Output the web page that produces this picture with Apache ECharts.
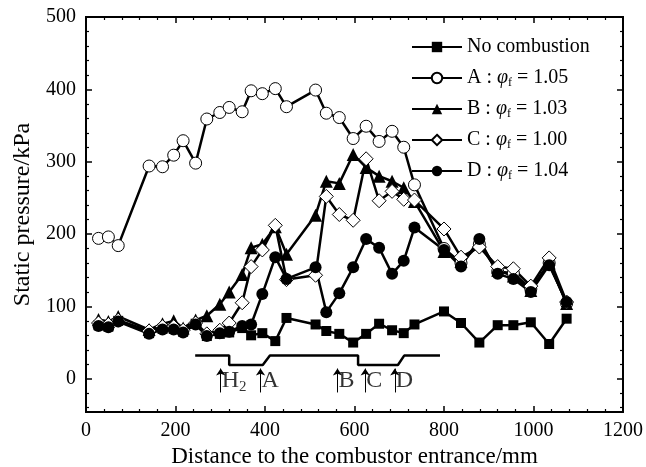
<!DOCTYPE html>
<html><head><meta charset="utf-8">
<script src="https://cdn.jsdelivr.net/npm/echarts@6/dist/echarts.min.js"></script>
<style>html,body{margin:0;padding:0;background:#fff}#c{width:646px;height:467px}</style>
</head><body><div id="c"></div>
<script>
// ---- data ----
const xPos = [28, 50, 72, 141, 171, 196, 217, 245, 270, 299, 320, 349, 369, 394, 423, 448, 513, 537, 566, 597, 626, 655, 684, 710, 734, 800, 838, 879, 920, 955, 994, 1035, 1074];
const noCombustion = [74, 72, 80, 63, 69, 69, 65, 76, 59, 62, 64, 70, 60, 63, 52, 84, 75, 66, 62, 50, 62, 76, 67, 63, 75, 93, 77, 50, 74, 74, 78, 48, 83];
const seriesA = [194, 196, 184, 294, 293, 309, 329, 298, 359, 368, 375, 369, 398, 394, 401, 376, 399, 367, 361, 332, 349, 328, 342, 320, 268, 180, 160, 186, 148, 146, 124, 160, 104];
const seriesB = [82, 79, 86, 68, 76, 80, 70, 81, 87, 103, 120, 144, 181, 186, 210, 172, 226, 273, 270, 310, 292, 280, 273, 264, 245, 176, 162, 188, 150, 142, 122, 160, 104];
const seriesC = [77, 75, 81, 66, 72, 72, 67, 77, 62, 67, 77, 105, 155, 178, 212, 137, 143, 252, 227, 219, 304, 246, 259, 248, 247, 207, 168, 182, 155, 152, 128, 167, 106];
const seriesD = [73, 71, 79, 62, 68, 68, 64, 75, 59, 63, 65, 73, 75, 117, 168, 138, 154, 92, 118, 154, 193, 181, 145, 163, 209, 178, 155, 193, 145, 138, 120, 157, 106];
const seriesNames = ['No combustion', 'A', 'B', 'C', 'D'];
const phiValues = { A: '1.05', B: '1.03', C: '1.00', D: '1.04' };
const xTickLabels = [0, 200, 400, 600, 800, 1000, 1200];
const yTickLabels = [0, 100, 200, 300, 400, 500];
// combustor outline schematic and injection arrows (in data units)
const outlineX = [244, 320, 320, 395, 411, 608, 608, 697, 711, 791];
const outlineY = [32, 32, 19, 19, 32, 32, 19, 19, 32, 32];
const arrowX = [301, 390, 562, 624, 690];
const arrowLabels = ['H2', 'A', 'B', 'C', 'D'];

// ---- chart ----
const FONT = 'Liberation Serif';
const yMinor = [];
for (let v = -40; v < 500; v += 20) { if (v % 100 !== 0) yMinor.push(v); }
const zip = arr => xPos.map((x, i) => [x, arr[i]]);

const chart = echarts.init(document.getElementById('c'), null, { renderer: 'canvas' });
const axisLine = { show: true, onZero: false, lineStyle: { color: '#000', width: 2 } };
const xBase = {
  type: 'value', min: 0, max: 1200, interval: 200,
  axisLine, splitLine: { show: false },
  axisTick: { inside: true, length: 6, lineStyle: { color: '#000', width: 1.5 } },
  minorTick: { show: true, splitNumber: 5, length: 3, lineStyle: { color: '#000', width: 1.2 } },
  minorSplitLine: { show: false }
};
const yBase = {
  type: 'value', min: -46, max: 500,
  axisLine, splitLine: { show: false }
};
const majorTick = { show: true, inside: true, length: 6, customValues: yTickLabels, lineStyle: { color: '#000', width: 1.5 } };
const minorTickY = { show: true, inside: true, length: 3, customValues: yMinor, lineStyle: { color: '#000', width: 1.2 } };

const lineSeries = (name, data, symbol, size, fill) => ({
  name, type: 'line', data: zip(data), symbol, symbolSize: size,
  xAxisIndex: 0, yAxisIndex: 0,
  lineStyle: { color: '#000', width: 2.5 },
  itemStyle: { color: fill, borderColor: '#000', borderWidth: fill === '#fff' ? 1 : 0 },
  emphasis: { disabled: true }
});

const option = {
  animation: false,
  backgroundColor: '#fff',
  grid: { left: 86, right: 23, top: 17, bottom: 55, containLabel: false, outerBoundsMode: 'none' },
  xAxis: [
    Object.assign({}, xBase, {
      position: 'bottom',
      axisLabel: { color: '#000', fontFamily: FONT, fontSize: 20, margin: 9, formatter: v => String(v) },
      name: 'Distance to the combustor entrance/mm', nameLocation: 'middle', nameGap: 30,
      nameTextStyle: { color: '#000', fontFamily: FONT, fontSize: 23 }
    }),
    Object.assign({}, xBase, { position: 'top', axisLabel: { show: false } })
  ],
  yAxis: [
    Object.assign({}, yBase, {
      position: 'left', axisTick: majorTick,
      axisLabel: { color: '#000', fontFamily: FONT, fontSize: 20, margin: 10, customValues: yTickLabels, formatter: v => String(v) },
      name: 'Static pressure/kPa', nameLocation: 'middle', nameGap: 39,
      nameTextStyle: { color: '#000', fontFamily: FONT, fontSize: 24 }
    }),
    Object.assign({}, yBase, { position: 'left', axisTick: minorTickY, axisLabel: { show: false } }),
    Object.assign({}, yBase, { position: 'right', axisTick: majorTick, axisLabel: { show: false } }),
    Object.assign({}, yBase, { position: 'right', axisTick: minorTickY, axisLabel: { show: false } })
  ],
  legend: {
    data: seriesNames, orient: 'vertical', left: 411, top: 36, padding: 0,
    itemWidth: 50, itemHeight: 13, itemGap: 9,
    formatter: n => n === 'No combustion' ? n : `${n} : {phi|φ}{sub|f} = ${phiValues[n]}`,
    textStyle: {
      color: '#000', fontFamily: FONT, fontSize: 20, lineHeight: 22,
      rich: {
        phi: { fontFamily: FONT, fontSize: 20, fontStyle: 'italic', lineHeight: 22, color: '#000' },
        sub: { fontFamily: FONT, fontSize: 12, lineHeight: 11, verticalAlign: 'bottom', color: '#000' }
      }
    }
  },
  series: [
    lineSeries('No combustion', noCombustion, 'rect', 10, '#000'),
    lineSeries('A', seriesA, 'circle', 12, '#fff'),
    lineSeries('B', seriesB, 'triangle', 13, '#000'),
    lineSeries('C', seriesC, 'diamond', 14, '#fff'),
    lineSeries('D', seriesD, 'circle', 12, '#000'),
    {
      name: 'outline', type: 'line', data: outlineX.map((x, i) => [x, outlineY[i]]),
      symbol: 'none', lineStyle: { color: '#000', width: 2.5 }, silent: true,
      markLine: {
        silent: true, symbol: ['none', 'arrow'], symbolSize: 7,
        lineStyle: { type: 'solid', color: '#000', width: 1 }, label: { show: false },
        emphasis: { disabled: true },
        data: arrowX.map(x => [{ coord: [x, -19] }, { coord: [x, 14] }])
      }
    },
    {
      name: 'labels', type: 'scatter', symbolSize: 0, silent: true,
      data: arrowX.map(x => [x, -3]),
      label: {
        show: true, position: 'right', distance: 1, color: '#000',
        formatter: p => arrowLabels[p.dataIndex] === 'H2' ? '{t|H}{s|2}' : '{t|' + arrowLabels[p.dataIndex] + '}',
        rich: {
          t: { fontFamily: FONT, fontSize: 24, lineHeight: 28, color: '#000' },
          s: { fontFamily: FONT, fontSize: 15, lineHeight: 14, verticalAlign: 'bottom', color: '#000' }
        }
      }
    }
  ]
};
chart.setOption(option);
</script></body></html>
